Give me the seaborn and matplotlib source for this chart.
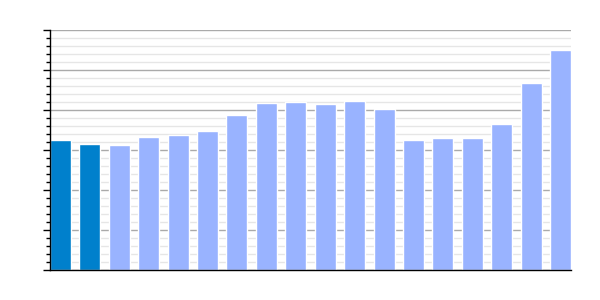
import matplotlib
matplotlib.use("Agg")
import matplotlib.pyplot as plt
from matplotlib.ticker import MultipleLocator, NullFormatter
import seaborn as sns
import pandas as pd

categories = [f"c{i}" for i in range(1, 19)]
values = [3.25, 3.15, 3.125, 3.325, 3.375, 3.475, 3.875, 4.175, 4.2, 4.15,
          4.225, 4.025, 3.25, 3.3, 3.3, 3.65, 4.675, 5.5]
groups = ["highlight", "highlight"] + ["normal"] * 16
palette = {"highlight": "#0080cc", "normal": "#99b3ff"}

df = pd.DataFrame({"cat": categories, "val": values, "grp": groups})

sns.set_style("white")
fig = plt.figure(figsize=(6, 3), dpi=100)
ax = fig.add_axes([50 / 600, 30 / 300, 521 / 600, 240 / 300])

w = 0.714
sns.barplot(data=df, x="cat", y="val", hue="grp", palette=palette,
            dodge=False, width=w, legend=False, ax=ax, saturation=1)

ax.set_xlim(-w / 2, len(categories) - 1 + w / 2)
ax.set_ylim(0, 6)
ax.yaxis.set_major_locator(MultipleLocator(1))
ax.yaxis.set_minor_locator(MultipleLocator(0.2))
ax.yaxis.set_major_formatter(NullFormatter())
ax.set_xticks([])
ax.set_xlabel("")
ax.set_ylabel("")
ax.set_axisbelow(True)
ax.grid(which="major", axis="y", color="#aaaaaa", linewidth=1)
ax.grid(which="minor", axis="y", color="#e6e6e6", linewidth=1)
ax.tick_params(axis="y", which="major", length=5, width=1, color="black", left=True)
ax.tick_params(axis="y", which="minor", length=3, width=1, color="black", left=True)
for s in ["top", "right"]:
    ax.spines[s].set_visible(False)
for s in ["left", "bottom"]:
    ax.spines[s].set_visible(True)
    ax.spines[s].set_color("black")
    ax.spines[s].set_linewidth(1)

fig.savefig("out.png", dpi=100)
